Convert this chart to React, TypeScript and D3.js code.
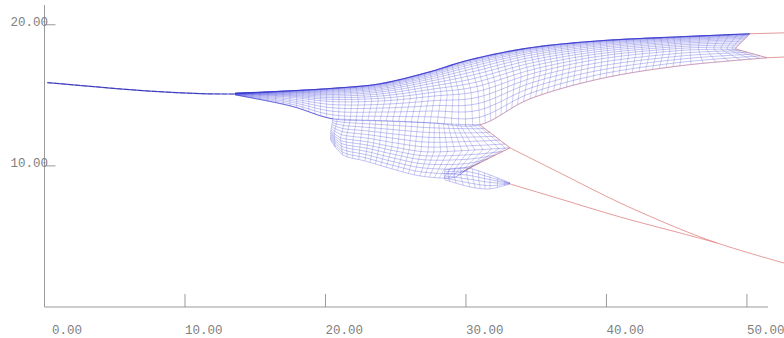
import React from "react";
import * as d3 from "d3";

type Pt = [number, number];

const xTicks = [0, 10, 20, 30, 40, 50];
const yTicks = [10, 20];
const X_MAX = 51.5;
const Y_MAX = 21.4;

// thin trace leading into the fan
const leadLine: Pt[] = [[0.2, 15.9], [7.5, 15.3], [11.1, 15.12], [13.56, 15.09]];

// upper sheet: cross-section ribs, each (top, middle, bottom)
const upperRibs: Pt[][] = [
  [[13.56, 15.14], [13.56, 15.09], [13.56, 15.04]],
  [[17.47, 15.32], [17.47, 14.89], [17.47, 14.26]],
  [[20.53, 15.5], [20.53, 14.61], [20.53, 13.33]],
  [[23.88, 15.82], [24.23, 14.68], [23.88, 13.19]],
  [[27.44, 16.67], [27.79, 15.04], [27.44, 13.05]],
  [[30.28, 17.52], [30.85, 15.39], [30.99, 12.91]],
  [[34.56, 18.37], [34.91, 16.67], [34.56, 14.75]],
  [[39.54, 18.87], [39.68, 17.66], [39.54, 16.17]],
  [[45.23, 19.15], [45.37, 18.23], [45.23, 17.09]],
  [[50.21, 19.36], [49.14, 18.3], [51.43, 17.66]],
];

// lower body under the fold
const lowerRibs: Pt[][] = [
  [[20.53, 13.33], [20.39, 12.55], [20.36, 11.84]],
  [[21.39, 13.3], [21.07, 11.99], [21.21, 10.78]],
  [[23.17, 13.23], [23.02, 11.7], [22.81, 10.35]],
  [[25.3, 13.16], [25.16, 11.28], [24.73, 9.79]],
  [[27.44, 13.05], [27.3, 10.99], [26.73, 9.29]],
  [[29.57, 12.94], [30.64, 11.13], [29.0, 9.15]],
  [[30.99, 12.91], [33.13, 11.28], [30.0, 9.72]],
];

// small tail wing
const tailRibs: Pt[][] = [
  [[28.51, 9.72], [28.43, 9.36], [28.51, 9.01]],
  [[30.07, 9.86], [30.07, 9.22], [30.28, 8.51]],
  [[31.71, 9.36], [31.71, 8.94], [31.71, 8.37]],
  [[33.13, 8.79], [33.13, 8.76], [33.13, 8.72]],
];

// red boundary curves
const redA: Pt[] = [[33.13, 11.28], [36.69, 9.5], [40.96, 7.38], [45.23, 5.53], [47.86, 4.54], [52.63, 3.12], [53.5, 2.9]];
const redB: Pt[] = [[33.13, 8.72], [36.69, 7.66], [40.96, 6.38], [45.23, 5.25], [47.86, 4.54]];
const redTop: Pt[] = [[50.21, 19.36], [53.5, 19.45]];
const redMid: Pt[] = [[51.43, 17.66], [53.5, 17.75]];

// position along a rib, piecewise between its three points
function ribAt(r: Pt[], s: number): Pt {
  const [a, b, u] = s <= 0.5 ? [r[0], r[1], s * 2] : [r[1], r[2], s * 2 - 1];
  return [a[0] + (b[0] - a[0]) * u, a[1] + (b[1] - a[1]) * u];
}

function sheetAt(ribs: Pt[][], t: number, s: number): Pt {
  const n = ribs.length;
  const i = Math.min(Math.floor(t), n - 2);
  const u = t - i;
  const p = (k: number) => ribAt(ribs[Math.max(0, Math.min(n - 1, k))], s);
  const p0 = p(i - 1), p1 = p(i), p2 = p(i + 1), p3 = p(i + 2);
  const u2 = u * u, u3 = u2 * u;
  const f = (a: number, b: number, c: number, d: number) =>
    0.5 * (2 * b + (-a + c) * u + (2 * a - 5 * b + 4 * c - d) * u2 + (-a + 3 * b - 3 * c + d) * u3);
  return [f(p0[0], p1[0], p2[0], p3[0]), f(p0[1], p1[1], p2[1], p3[1])];
}

export default function App() {
  const W = 784, H = 338;
  const x = d3.scaleLinear().domain([0, X_MAX]).range([44.5, 768]);
  const y = d3.scaleLinear().domain([0, Y_MAX]).range([307, 5]);
  const line = d3.line<Pt>().x((d) => x(d[0])).y((d) => y(d[1]));
  const smooth = d3.line<Pt>().x((d) => x(d[0])).y((d) => y(d[1])).curve(d3.curveCatmullRom);

  function mesh(ribs: Pt[][], rows: number, power: number, step: number) {
    const tVals: number[] = [];
    for (let i = 0; i < ribs.length - 1; i++) {
      const a = ribAt(ribs[i], 0.5), b = ribAt(ribs[i + 1], 0.5);
      const len = Math.hypot(x(b[0]) - x(a[0]), y(b[1]) - y(a[1]));
      const m = Math.max(1, Math.round(len / step));
      for (let k = 0; k < m; k++) tVals.push(i + k / m);
    }
    tVals.push(ribs.length - 1);
    const sVals = d3.range(rows + 1).map((j) => Math.pow(j / rows, power));
    const rowLines = sVals.map((s) => tVals.map((t) => sheetAt(ribs, t, s)));
    const colLines = tVals.map((t) => sVals.map((s) => sheetAt(ribs, t, s)));
    return { rowLines, colLines, tVals };
  }

  const up = mesh(upperRibs, 18, 2, 6.5);
  const low = mesh(lowerRibs, 12, 1, 6.5);
  const tail = mesh(tailRibs, 5, 1, 6);

  const upperBottom = up.tVals.filter((t) => t >= 5).map((t) => sheetAt(upperRibs, t, 1));
  const fanBottom = up.tVals.filter((t) => t <= 2).map((t) => sheetAt(upperRibs, t, 1));
  const upperTop = up.tVals.map((t) => sheetAt(upperRibs, t, 0));
  const rightRib = upperRibs[upperRibs.length - 1];
  const cuspRib = lowerRibs[lowerRibs.length - 1];

  const blue = "#4646dc";
  const red = "#e07a7a";
  const gray = "#9a9a9a";
  const font = "'Liberation Mono', 'Courier New', monospace";

  const renderMesh = (m: { rowLines: Pt[][]; colLines: Pt[][] }, key: string) => (
    <g key={key} fill="none">
      {m.colLines.map((l, i) => (
        <path key={"c" + i} d={line(l) || ""} stroke="#6060c0" strokeOpacity={0.5} strokeWidth={0.6} />
      ))}
      {m.rowLines.map((l, i) => (
        <path key={"r" + i} d={line(l) || ""} stroke={blue} strokeOpacity={0.55} strokeWidth={0.6} />
      ))}
    </g>
  );

  return (
    <svg width={W} height={H} style={{ position: "absolute", left: 0, top: 0, background: "#fff" }}>
      {/* axes */}
      <line x1={x(0)} x2={x(X_MAX)} y1={y(0)} y2={y(0)} stroke={gray} strokeWidth={1} />
      <line x1={x(0)} x2={x(0)} y1={y(0)} y2={y(Y_MAX)} stroke={gray} strokeWidth={1} />
      {xTicks.map((t) => (
        <g key={"xt" + t}>
          {t > 0 && <line x1={x(t)} x2={x(t)} y1={y(0)} y2={y(0) - 13} stroke={gray} />}
          <text x={x(t) + 37.5} y={334} textAnchor="end" fontFamily={font} fontSize={12.5} fill="#808080">
            {t.toFixed(2)}
          </text>
        </g>
      ))}
      {yTicks.map((t) => (
        <g key={"yt" + t}>
          <line x1={x(0)} x2={x(0) + 11} y1={y(t)} y2={y(t)} stroke={gray} />
          <text x={48} y={y(t) + 1.5} textAnchor="end" fontFamily={font} fontSize={12.5} fill="#808080">
            {t.toFixed(2)}
          </text>
        </g>
      ))}

      {/* mesh */}
      {renderMesh(low, "low")}
      {renderMesh(tail, "tail")}
      {renderMesh(up, "up")}

      {/* leading trace and dark edges */}
      <path d={smooth(leadLine) || ""} fill="none" stroke="#3434c4" strokeWidth={1.1} strokeOpacity={0.85} />
      <path d={smooth(leadLine) || ""} fill="none" stroke="#2020a0" strokeWidth={0.8} strokeDasharray="5 2" strokeOpacity={0.6} />
      <path d={line(upperTop) || ""} fill="none" stroke="#3030c8" strokeWidth={1.1} strokeOpacity={0.8} />
      <path d={line(fanBottom) || ""} fill="none" stroke="#3030c8" strokeWidth={0.9} strokeOpacity={0.7} />

      {/* red boundaries */}
      <g fill="none" stroke={red} strokeWidth={0.9} strokeOpacity={0.85}>
        <path d={smooth(redA) || ""} />
        <path d={smooth(redB) || ""} />
        <path d={line(redTop) || ""} />
        <path d={line(redMid) || ""} />
        <path d={line(upperBottom) || ""} strokeOpacity={0.5} />
        <path d={line(rightRib) || ""} strokeOpacity={0.6} />
        <path d={line(cuspRib) || ""} strokeOpacity={0.7} />
      </g>
    </svg>
  );
}
